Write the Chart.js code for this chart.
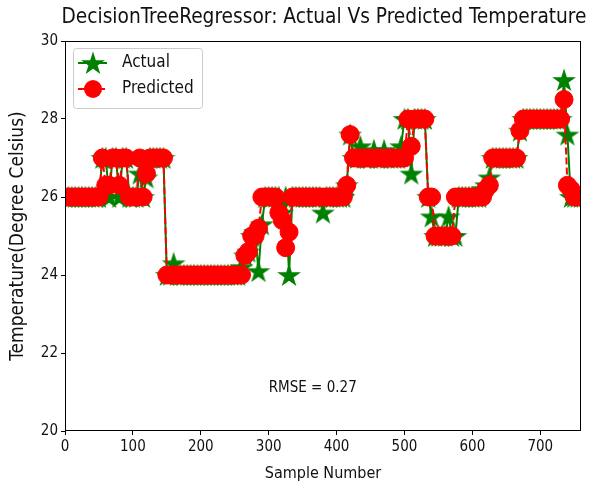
<!DOCTYPE html>
<html>
<head>
<meta charset="utf-8">
<script src="https://cdn.jsdelivr.net/npm/chart.js@4.4.0/dist/chart.umd.min.js"></script>
<style>
    html, body { margin: 0; padding: 0; background: #fff; }
    #wrap { width: 595px; height: 485px; }
</style>
</head>
<body>
<div id="wrap"><canvas id="chart" width="595" height="485"></canvas></div>
<script>
// values, one every 5 samples
const sampleNumbers = [
    0, 5, 10, 15, 20, 25, 30, 35, 40, 45,
    50, 55, 60, 65, 70, 75, 80, 85, 90, 95,
    100, 105, 110, 115, 120, 125, 130, 135, 140, 145,
    150, 155, 160, 165, 170, 175, 180, 185, 190, 195,
    200, 205, 210, 215, 220, 225, 230, 235, 240, 245,
    250, 255, 260, 265, 270, 275, 280, 285, 290, 295,
    300, 305, 310, 315, 320, 325, 330, 335, 340, 345,
    350, 355, 360, 365, 370, 375, 380, 385, 390, 395,
    400, 405, 410, 415, 420, 425, 430, 435, 440, 445,
    450, 455, 460, 465, 470, 475, 480, 485, 490, 495,
    500, 505, 510, 515, 520, 525, 530, 535, 540, 545,
    550, 555, 560, 565, 570, 575, 580, 585, 590, 595,
    600, 605, 610, 615, 620, 625, 630, 635, 640, 645,
    650, 655, 660, 665, 670, 675, 680, 685, 690, 695,
    700, 705, 710, 715, 720, 725, 730, 735, 740, 745,
    750, 755, 760
];
const actualTemps = [
    26, 26, 26, 26, 26, 26, 26, 26, 26, 26,
    26, 27, 27, 26, 27, 27, 26, 27, 27, 26,
    26, 26, 26.6, 26, 26.5, 27, 27, 27, 27, 27,
    24, 24, 24.3, 24, 24, 24, 24, 24, 24, 24,
    24, 24, 24, 24, 24, 24, 24, 24, 24, 24,
    24, 24, 24.2, 24.5, 24.6, 25, 25.1, 24.1, 25.3, 26,
    26, 26, 26, 26, 25.6, 26, 24, 26, 26, 26,
    26, 26, 26, 26, 26, 26, 25.6, 26, 26, 26,
    26, 26, 26, 26.3, 27.6, 27, 27, 27.3, 27, 27,
    27, 27.2, 27, 27, 27.2, 27, 27, 27, 27, 27.3,
    28, 28, 26.6, 28, 28, 28, 28, 26, 25.5, 25,
    25, 25, 25, 25.5, 25, 25, 26, 26, 26, 26,
    26, 26, 26, 26.2, 26.3, 26.5, 27, 27, 27, 27,
    27, 27, 27, 27, 27.7, 28, 28, 28, 28, 28,
    28, 28, 28, 28, 28, 28, 28, 29, 27.6, 26,
    26, 26, 26
];
const predictedTemps = [
    26, 26, 26, 26, 26, 26, 26, 26, 26, 26,
    26, 27, 26.3, 26.3, 27, 27, 26.3, 27, 27, 26,
    26, 26, 27, 26, 26.6, 27, 27, 27, 27, 27,
    24, 24, 24, 24, 24, 24, 24, 24, 24, 24,
    24, 24, 24, 24, 24, 24, 24, 24, 24, 24,
    24, 24, 24, 24.5, 24.6, 25, 25, 25.2, 26, 26,
    26, 26, 26, 25.6, 25.4, 24.7, 25.1, 26, 26, 26,
    26, 26, 26, 26, 26, 26, 26, 26, 26, 26,
    26, 26, 26, 26.3, 27.6, 27, 27, 27, 27, 27,
    27, 27, 27, 27, 27, 27, 27, 27, 27, 27,
    27, 28, 27.3, 28, 28, 28, 28, 26, 26, 25,
    25, 25, 25, 25, 25, 26, 26, 26, 26, 26,
    26, 26, 26, 26, 26.2, 26.3, 27, 27, 27, 27,
    27, 27, 27, 27, 27.7, 28, 28, 28, 28, 28,
    28, 28, 28, 28, 28, 28, 28, 28.5, 26.3, 26.2,
    26, 26, 26
];
const xTickValues = [0, 100, 200, 300, 400, 500, 600, 700];
const yTickValues = [20, 22, 24, 26, 28, 30];
const seriesNames = ['Actual', 'Predicted'];
const chartTitle = 'DecisionTreeRegressor: Actual Vs Predicted Temperature';
const xLabel = 'Sample Number';
const yLabel = 'Temperature(Degree Celsius)';
const rmseText = 'RMSE = 0.27';

const FONT = "'DejaVu Sans Condensed', 'Liberation Sans Narrow', 'Open Sans', sans-serif";
const GREEN = '#008000';
const RED = '#ff0000';

function makeStar(size, color) {
    const c = document.createElement('canvas');
    c.width = size;
    c.height = size;
    const g = c.getContext('2d');
    const R = size / 2 - 0.5, r = R * 0.382;
    g.beginPath();
    for (let i = 0; i < 10; i++) {
        const a = -Math.PI / 2 + i * Math.PI / 5;
        const rad = i % 2 === 0 ? R : r;
        g.lineTo(size / 2 + rad * Math.cos(a), size / 2 + 1 + rad * Math.sin(a));
    }
    g.closePath();
    g.fillStyle = color;
    g.fill();
    return c;
}
const starImg = makeStar(26, GREEN);

// title, spines, legend box and the RMSE note, matplotlib style
const decorations = {
    id: 'decorations',
    afterDatasetsDraw(chart) {
        const { ctx, chartArea: a, scales } = chart;
        ctx.save();
        ctx.strokeStyle = '#000';
        ctx.lineWidth = 1;
        ctx.strokeRect(a.left + 0.5, a.top + 0.5, a.right - a.left - 1, a.bottom - a.top - 1);

        ctx.fillStyle = '#111';
        ctx.textBaseline = 'middle';
        ctx.font = '20.7px ' + FONT;
        ctx.textAlign = 'center';
        ctx.fillText(chartTitle, (a.left + a.right) / 2 + 1, 18);

        ctx.font = '15px ' + FONT;
        ctx.textAlign = 'left';
        ctx.textBaseline = 'alphabetic';
        ctx.fillText(rmseText, scales.x.getPixelForValue(300), scales.y.getPixelForValue(21));

        // legend
        const bx = a.left + 8, by = a.top + 7, bw = 129, bh = 60;
        ctx.beginPath();
        ctx.roundRect(bx + 0.5, by + 0.5, bw, bh, 3);
        ctx.fillStyle = 'rgba(255,255,255,0.8)';
        ctx.fill();
        ctx.strokeStyle = '#cccccc';
        ctx.stroke();

        const lx0 = bx + 5, lx1 = bx + 34, mx = bx + 20;
        const rows = [by + 15, by + 41];
        ctx.lineWidth = 2;
        ctx.strokeStyle = GREEN;
        ctx.beginPath();
        ctx.moveTo(lx0, rows[0]);
        ctx.lineTo(lx1, rows[0]);
        ctx.stroke();
        ctx.drawImage(starImg, mx - 13, rows[0] - 13);

        ctx.strokeStyle = RED;
        ctx.setLineDash([7, 3]);
        ctx.beginPath();
        ctx.moveTo(lx0, rows[1]);
        ctx.lineTo(lx1, rows[1]);
        ctx.stroke();
        ctx.setLineDash([]);
        ctx.fillStyle = RED;
        ctx.beginPath();
        ctx.arc(mx, rows[1], 9, 0, Math.PI * 2);
        ctx.fill();

        ctx.fillStyle = '#111';
        ctx.font = '17px ' + FONT;
        ctx.textBaseline = 'middle';
        ctx.fillText(seriesNames[0], bx + 49, rows[0]);
        ctx.fillText(seriesNames[1], bx + 49, rows[1]);
        ctx.restore();
    }
};

const toPoints = values => values.map((v, i) => ({ x: sampleNumbers[i], y: v }));

new Chart(document.getElementById('chart').getContext('2d'), {
    type: 'line',
    data: {
        datasets: [
            {
                label: seriesNames[0],
                data: toPoints(actualTemps),
                borderColor: GREEN,
                borderWidth: 2,
                pointStyle: starImg,
                pointRadius: 12,
                pointHoverRadius: 12,
                tension: 0,
                clip: 0,
                order: 2
            },
            {
                label: seriesNames[1],
                data: toPoints(predictedTemps),
                borderColor: RED,
                borderWidth: 2,
                borderDash: [7, 3],
                pointStyle: 'circle',
                pointRadius: 9,
                pointBackgroundColor: RED,
                pointBorderColor: RED,
                pointBorderWidth: 1,
                tension: 0,
                clip: 0,
                order: 1
            }
        ]
    },
    options: {
        responsive: false,
        animation: false,
        devicePixelRatio: 1,
        layout: { padding: { left: 0, right: 9, top: 41, bottom: 0 } },
        plugins: {
            legend: { display: false },
            title: { display: false },
            tooltip: { enabled: false }
        },
        scales: {
            x: {
                type: 'linear',
                min: 0,
                max: 760,
                afterBuildTicks: s => { s.ticks = xTickValues.map(v => ({ value: v })); },
                afterFit: s => { s.height = 54; },
                grid: { drawOnChartArea: false, tickLength: 4, color: '#000' },
                border: { display: false },
                ticks: { color: '#111', padding: 3, maxRotation: 0, font: { family: FONT, size: 15 } },
                title: { display: true, text: xLabel, color: '#111', font: { family: FONT, size: 16 }, padding: { top: 0, bottom: 2 } }
            },
            y: {
                min: 20,
                max: 30,
                afterBuildTicks: s => { s.ticks = yTickValues.map(v => ({ value: v })); },
                afterFit: s => { s.width = 65; },
                grid: { drawOnChartArea: false, tickLength: 4, color: '#000' },
                border: { display: false },
                ticks: { color: '#111', padding: 3, font: { family: FONT, size: 15 } },
                title: { display: true, text: yLabel, color: '#111', font: { family: FONT, size: 19 }, padding: { top: 7, bottom: 0 } }
            }
        }
    },
    plugins: [decorations]
});
</script>
</body>
</html>
